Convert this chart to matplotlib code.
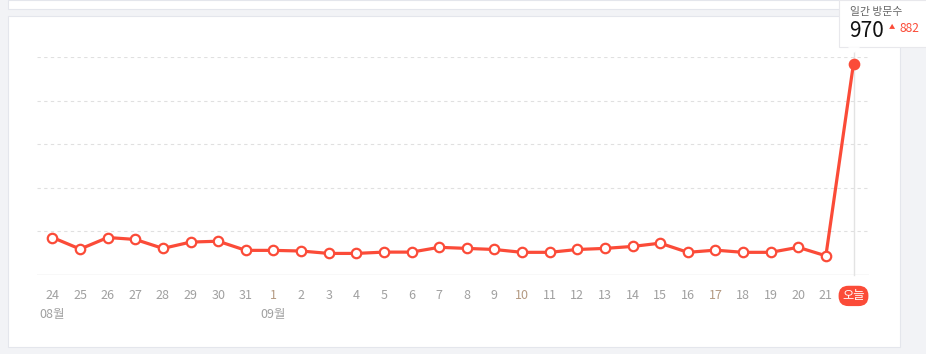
import matplotlib.pyplot as plt
from matplotlib.patches import Rectangle, Polygon
from matplotlib.transforms import blended_transform_factory

plt.rcParams['font.family'] = ['Noto Sans CJK KR', 'DejaVu Sans']

# daily visitors, 08/24 .. 09/21 + today
days = ["24", "25", "26", "27", "28", "29", "30", "31", "1", "2", "3", "4", "5", "6", "7",
        "8", "9", "10", "11", "12", "13", "14", "15", "16", "17", "18", "19", "20", "21", "오늘"]
visits = [172, 119, 172, 163, 122, 151, 155, 113, 113, 110, 99, 99, 105, 105, 127,
          122, 117, 104, 104, 117, 122, 131, 146, 104, 114, 104, 104, 127, 88, 970]
months = {0: "08월", 8: "09월"}
tinted = ["1", "10", "17"]
grid_vals = [200, 400, 600, 800, 1000]
today_val = visits[-1]
today_diff = visits[-1] - visits[-2]

W, H = 926, 354
RED = "#fb4b38"

fig = plt.figure(figsize=(W / 100, H / 100), dpi=100)
fig.patch.set_facecolor("#f2f3f6")


def fx(x):
    return x / W


def fy(y):
    return 1 - y / H


# cards (behind the axes)
fig.patches.append(Rectangle((fx(8), fy(9)), fx(892), 9 / H, transform=fig.transFigure,
                             facecolor="white", edgecolor="#e4e6ec", lw=0.8, zorder=-5))
fig.patches.append(Rectangle((fx(8), fy(347)), fx(892), 331 / H, transform=fig.transFigure,
                             facecolor="white", edgecolor="#e4e6ec", lw=0.8, zorder=-5))

# plot area: 0..1000 spans y 275 -> 57
ax = fig.add_axes([fx(37), fy(275), fx(832), 218 / H])
ax.set_facecolor("none")
n = len(visits)
ax.set_xlim(-15 / 26.73, (n - 1) + 15 / 26.73)
ax.set_ylim(0, 1000)
for s in ax.spines.values():
    s.set_visible(False)
ax.set_xticks([])
ax.set_yticks([])

for g in grid_vals:
    ax.axhline(g, color="#e0e0e0", lw=0.8, dashes=(3, 3), zorder=1)
ax.axhline(0, color="#dedede", lw=1.0, zorder=1)

# hover line at today
ax.plot([n - 1, n - 1], [0, 1080], color="#e3e3e3", lw=1.0, zorder=1, clip_on=False)

xs = list(range(n))
ax.plot(xs, visits, color=RED, lw=2.3, zorder=3, clip_on=False)
ax.plot(xs[:-1], visits[:-1], 'o', ms=6.8, mfc="white", mec=RED, mew=1.6, zorder=4, clip_on=False)
ax.plot(xs[-1:], visits[-1:], 'o', ms=6.8, mfc=RED, mec=RED, mew=1.6, zorder=4, clip_on=False)

tr = blended_transform_factory(ax.transData, ax.transAxes)
for i, d in enumerate(days):
    if d == "오늘":
        ax.text(i, -0.096, d, transform=tr, ha="center", va="center", fontsize=8.8,
                color="white", bbox=dict(boxstyle="round,pad=0.3,rounding_size=0.8",
                                         fc=RED, ec="none"))
    else:
        c = "#b49a82" if d in tinted else "#a0a0a0"
        ax.text(i, -0.096, d, transform=tr, ha="center", va="center", fontsize=9, color=c)
for i, m in months.items():
    ax.text(i, -0.183, m, transform=tr, ha="center", va="center", fontsize=9, color="#a0a0a0")

# tooltip
fig.patches.append(Rectangle((fx(839), fy(47)), fx(100), 47 / H, transform=fig.transFigure,
                             fc="white", ec="#e8e8ec", lw=0.8, zorder=5))
fig.patches.append(Polygon([(fx(848), fy(47.2)), (fx(860), fy(47.2)), (fx(854), fy(53))],
                           closed=True, transform=fig.transFigure, fc="white", ec="none", zorder=6))
fig.text(fx(850), fy(12), "일간 방문수", fontsize=7.8, color="#666666", ha="left", va="center", zorder=7)
fig.text(fx(849), fy(31), f"{today_val}", fontsize=15, color="#111111", ha="left", va="center", zorder=7)
fig.text(fx(889), fy(27), "▲", fontsize=4.5, color=RED, ha="left", va="center", zorder=7)
fig.text(fx(899), fy(28), f"{today_diff}", fontsize=8.6, color=RED, ha="left", va="center", zorder=7)

fig.savefig("out.png", dpi=100, facecolor=fig.get_facecolor())
